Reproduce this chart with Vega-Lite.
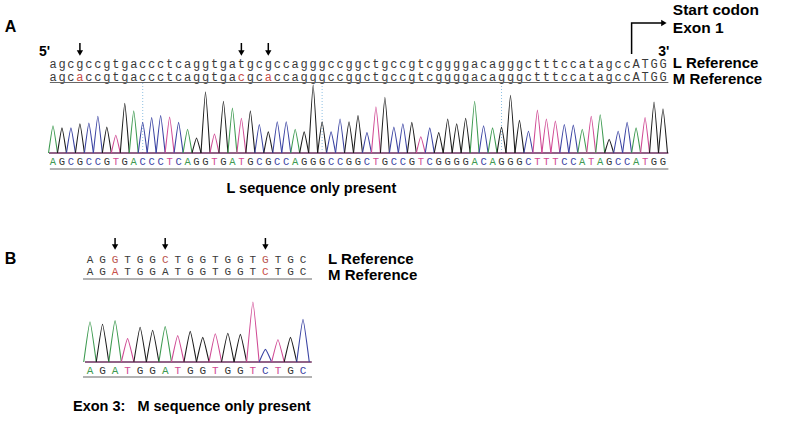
{
"$schema":"https://vega.github.io/schema/vega-lite/v6.json",
"width":790,"height":423,"padding":0,"autosize":{"type":"none"},"background":"white",
"config":{"view":{"stroke":null},"axis":{"disable":true},"legend":{"disable":true}},
"resolve":{"scale":{"x":"independent","y":"independent","color":"independent","shape":"independent","size":"independent"}},
"datasets":{
"seqA":[
{"pos":1,"L":"a","M":"a","R":"A"},{"pos":2,"L":"g","M":"g","R":"G"},{"pos":3,"L":"c","M":"c","R":"C"},{"pos":4,"L":"g","M":"a","R":"G","mhi":true},{"pos":5,"L":"c","M":"c","R":"C"},{"pos":6,"L":"c","M":"c","R":"C"},{"pos":7,"L":"g","M":"g","R":"G"},{"pos":8,"L":"t","M":"t","R":"T"},{"pos":9,"L":"g","M":"g","R":"G"},{"pos":10,"L":"a","M":"a","R":"A"},
{"pos":11,"L":"c","M":"c","R":"C"},{"pos":12,"L":"c","M":"c","R":"C"},{"pos":13,"L":"c","M":"c","R":"C"},{"pos":14,"L":"t","M":"t","R":"T"},{"pos":15,"L":"c","M":"c","R":"C"},{"pos":16,"L":"a","M":"a","R":"A"},{"pos":17,"L":"g","M":"g","R":"G"},{"pos":18,"L":"g","M":"g","R":"G"},{"pos":19,"L":"t","M":"t","R":"T"},{"pos":20,"L":"g","M":"g","R":"G"},
{"pos":21,"L":"a","M":"a","R":"A"},{"pos":22,"L":"t","M":"c","R":"T","mhi":true},{"pos":23,"L":"g","M":"g","R":"G"},{"pos":24,"L":"c","M":"c","R":"C"},{"pos":25,"L":"g","M":"a","R":"G","mhi":true},{"pos":26,"L":"c","M":"c","R":"C"},{"pos":27,"L":"c","M":"c","R":"C"},{"pos":28,"L":"a","M":"a","R":"A"},{"pos":29,"L":"g","M":"g","R":"G"},{"pos":30,"L":"g","M":"g","R":"G"},
{"pos":31,"L":"g","M":"g","R":"G"},{"pos":32,"L":"c","M":"c","R":"C"},{"pos":33,"L":"c","M":"c","R":"C"},{"pos":34,"L":"g","M":"g","R":"G"},{"pos":35,"L":"g","M":"g","R":"G"},{"pos":36,"L":"c","M":"c","R":"C"},{"pos":37,"L":"t","M":"t","R":"T"},{"pos":38,"L":"g","M":"g","R":"G"},{"pos":39,"L":"c","M":"c","R":"C"},{"pos":40,"L":"c","M":"c","R":"C"},
{"pos":41,"L":"g","M":"g","R":"G"},{"pos":42,"L":"t","M":"t","R":"T"},{"pos":43,"L":"c","M":"c","R":"C"},{"pos":44,"L":"g","M":"g","R":"G"},{"pos":45,"L":"g","M":"g","R":"G"},{"pos":46,"L":"g","M":"g","R":"G"},{"pos":47,"L":"g","M":"g","R":"G"},{"pos":48,"L":"a","M":"a","R":"A"},{"pos":49,"L":"c","M":"c","R":"C"},{"pos":50,"L":"a","M":"a","R":"A"},
{"pos":51,"L":"g","M":"g","R":"G"},{"pos":52,"L":"g","M":"g","R":"G"},{"pos":53,"L":"g","M":"g","R":"G"},{"pos":54,"L":"c","M":"c","R":"C"},{"pos":55,"L":"t","M":"t","R":"T"},{"pos":56,"L":"t","M":"t","R":"T"},{"pos":57,"L":"t","M":"t","R":"T"},{"pos":58,"L":"c","M":"c","R":"C"},{"pos":59,"L":"c","M":"c","R":"C"},{"pos":60,"L":"a","M":"a","R":"A"},
{"pos":61,"L":"t","M":"t","R":"T"},{"pos":62,"L":"a","M":"a","R":"A"},{"pos":63,"L":"g","M":"g","R":"G"},{"pos":64,"L":"c","M":"c","R":"C"},{"pos":65,"L":"c","M":"c","R":"C"},{"pos":66,"L":"A","M":"A","R":"A"},{"pos":67,"L":"T","M":"T","R":"T"},{"pos":68,"L":"G","M":"G","R":"G"},{"pos":69,"L":"G","M":"G","R":"G"}
],
"seqB":[
{"pos":1,"L":"A","M":"A","R":"A"},{"pos":2,"L":"G","M":"G","R":"G"},{"pos":3,"L":"G","M":"A","R":"A","lhi":true,"mhi":true},{"pos":4,"L":"T","M":"T","R":"T"},{"pos":5,"L":"G","M":"G","R":"G"},{"pos":6,"L":"G","M":"G","R":"G"},{"pos":7,"L":"C","M":"A","R":"A","lhi":true},{"pos":8,"L":"T","M":"T","R":"T"},{"pos":9,"L":"G","M":"G","R":"G"},
{"pos":10,"L":"G","M":"G","R":"G"},{"pos":11,"L":"T","M":"T","R":"T"},{"pos":12,"L":"G","M":"G","R":"G"},{"pos":13,"L":"G","M":"G","R":"G"},{"pos":14,"L":"T","M":"T","R":"T"},{"pos":15,"L":"G","M":"C","R":"C","lhi":true,"mhi":true},{"pos":16,"L":"T","M":"T","R":"T"},{"pos":17,"L":"G","M":"G","R":"G"},{"pos":18,"L":"C","M":"C","R":"C"}
],
"peaksA":[
{"p":1,"b":"A","t":0.5,"s":0},{"p":1,"b":"A","t":1,"s":40},{"p":1,"b":"A","t":1.5,"s":0},
{"p":2,"b":"G","t":1.5,"s":0},{"p":2,"b":"G","t":2,"s":37},{"p":2,"b":"G","t":2.5,"s":0},
{"p":3,"b":"C","t":2.5,"s":0},{"p":3,"b":"C","t":3,"s":37},{"p":3,"b":"C","t":3.5,"s":0},
{"p":4,"b":"G","t":3.5,"s":0},{"p":4,"b":"G","t":4,"s":43},{"p":4,"b":"G","t":4.5,"s":0},
{"p":5,"b":"C","t":4.5,"s":0},{"p":5,"b":"C","t":5,"s":44},{"p":5,"b":"C","t":5.5,"s":0},
{"p":6,"b":"C","t":5.5,"s":0},{"p":6,"b":"C","t":6,"s":54},{"p":6,"b":"C","t":6.5,"s":0},
{"p":7,"b":"G","t":6.5,"s":0},{"p":7,"b":"G","t":7,"s":38},{"p":7,"b":"G","t":7.5,"s":0},
{"p":8,"b":"T","t":7.5,"s":0},{"p":8,"b":"T","t":8,"s":26},{"p":8,"b":"T","t":8.5,"s":0},
{"p":9,"b":"G","t":8.5,"s":0},{"p":9,"b":"G","t":9,"s":73},{"p":9,"b":"G","t":9.5,"s":0},
{"p":10,"b":"A","t":9.5,"s":0},{"p":10,"b":"A","t":10,"s":62},{"p":10,"b":"A","t":10.5,"s":0},
{"p":11,"b":"C","t":10.5,"s":0},{"p":11,"b":"C","t":11,"s":45},{"p":11,"b":"C","t":11.5,"s":0},
{"p":12,"b":"C","t":11.5,"s":0},{"p":12,"b":"C","t":12,"s":52},{"p":12,"b":"C","t":12.5,"s":0},
{"p":13,"b":"C","t":12.5,"s":0},{"p":13,"b":"C","t":13,"s":55},{"p":13,"b":"C","t":13.5,"s":0},
{"p":14,"b":"T","t":13.5,"s":0},{"p":14,"b":"T","t":14,"s":53},{"p":14,"b":"T","t":14.5,"s":0},
{"p":15,"b":"C","t":14.5,"s":0},{"p":15,"b":"C","t":15,"s":45},{"p":15,"b":"C","t":15.5,"s":0},
{"p":16,"b":"A","t":15.5,"s":0},{"p":16,"b":"A","t":16,"s":35},{"p":16,"b":"A","t":16.5,"s":0},
{"p":17,"b":"G","t":16.5,"s":0},{"p":17,"b":"G","t":17,"s":22},{"p":17,"b":"G","t":17.5,"s":0},
{"p":18,"b":"G","t":17.5,"s":0},{"p":18,"b":"G","t":18,"s":90},{"p":18,"b":"G","t":18.5,"s":0},
{"p":19,"b":"T","t":18.5,"s":0},{"p":19,"b":"T","t":19,"s":28},{"p":19,"b":"T","t":19.5,"s":0},
{"p":20,"b":"G","t":19.5,"s":0},{"p":20,"b":"G","t":20,"s":76},{"p":20,"b":"G","t":20.5,"s":0},
{"p":21,"b":"A","t":20.5,"s":0},{"p":21,"b":"A","t":21,"s":66},{"p":21,"b":"A","t":21.5,"s":0},
{"p":22,"b":"T","t":21.5,"s":0},{"p":22,"b":"T","t":22,"s":51},{"p":22,"b":"T","t":22.5,"s":0},
{"p":23,"b":"G","t":22.5,"s":0},{"p":23,"b":"G","t":23,"s":62},{"p":23,"b":"G","t":23.5,"s":0},
{"p":24,"b":"C","t":23.5,"s":0},{"p":24,"b":"C","t":24,"s":42},{"p":24,"b":"C","t":24.5,"s":0},
{"p":25,"b":"G","t":24.5,"s":0},{"p":25,"b":"G","t":25,"s":31},{"p":25,"b":"G","t":25.5,"s":0},
{"p":26,"b":"C","t":25.5,"s":0},{"p":26,"b":"C","t":26,"s":46},{"p":26,"b":"C","t":26.5,"s":0},
{"p":27,"b":"C","t":26.5,"s":0},{"p":27,"b":"C","t":27,"s":46},{"p":27,"b":"C","t":27.5,"s":0},
{"p":28,"b":"A","t":27.5,"s":0},{"p":28,"b":"A","t":28,"s":35},{"p":28,"b":"A","t":28.5,"s":0},
{"p":29,"b":"G","t":28.5,"s":0},{"p":29,"b":"G","t":29,"s":31},{"p":29,"b":"G","t":29.5,"s":0},
{"p":30,"b":"G","t":29.5,"s":0},{"p":30,"b":"G","t":30,"s":100},{"p":30,"b":"G","t":30.5,"s":0},
{"p":31,"b":"G","t":30.5,"s":0},{"p":31,"b":"G","t":31,"s":46},{"p":31,"b":"G","t":31.5,"s":0},
{"p":32,"b":"C","t":31.5,"s":0},{"p":32,"b":"C","t":32,"s":31},{"p":32,"b":"C","t":32.5,"s":0},
{"p":33,"b":"C","t":32.5,"s":0},{"p":33,"b":"C","t":33,"s":50},{"p":33,"b":"C","t":33.5,"s":0},
{"p":34,"b":"G","t":33.5,"s":0},{"p":34,"b":"G","t":34,"s":46},{"p":34,"b":"G","t":34.5,"s":0},
{"p":35,"b":"G","t":34.5,"s":0},{"p":35,"b":"G","t":35,"s":55},{"p":35,"b":"G","t":35.5,"s":0},
{"p":36,"b":"C","t":35.5,"s":0},{"p":36,"b":"C","t":36,"s":30},{"p":36,"b":"C","t":36.5,"s":0},
{"p":37,"b":"T","t":36.5,"s":0},{"p":37,"b":"T","t":37,"s":68},{"p":37,"b":"T","t":37.5,"s":0},
{"p":38,"b":"G","t":37.5,"s":0},{"p":38,"b":"G","t":38,"s":82},{"p":38,"b":"G","t":38.5,"s":0},
{"p":39,"b":"C","t":38.5,"s":0},{"p":39,"b":"C","t":39,"s":38},{"p":39,"b":"C","t":39.5,"s":0},
{"p":40,"b":"C","t":39.5,"s":0},{"p":40,"b":"C","t":40,"s":43},{"p":40,"b":"C","t":40.5,"s":0},
{"p":41,"b":"G","t":40.5,"s":0},{"p":41,"b":"G","t":41,"s":45},{"p":41,"b":"G","t":41.5,"s":0},
{"p":42,"b":"T","t":41.5,"s":0},{"p":42,"b":"T","t":42,"s":24},{"p":42,"b":"T","t":42.5,"s":0},
{"p":43,"b":"C","t":42.5,"s":0},{"p":43,"b":"C","t":43,"s":37},{"p":43,"b":"C","t":43.5,"s":0},
{"p":44,"b":"G","t":43.5,"s":0},{"p":44,"b":"G","t":44,"s":30},{"p":44,"b":"G","t":44.5,"s":0},
{"p":45,"b":"G","t":44.5,"s":0},{"p":45,"b":"G","t":45,"s":50},{"p":45,"b":"G","t":45.5,"s":0},
{"p":46,"b":"G","t":45.5,"s":0},{"p":46,"b":"G","t":46,"s":43},{"p":46,"b":"G","t":46.5,"s":0},
{"p":47,"b":"G","t":46.5,"s":0},{"p":47,"b":"G","t":47,"s":51},{"p":47,"b":"G","t":47.5,"s":0},
{"p":48,"b":"A","t":47.5,"s":0},{"p":48,"b":"A","t":48,"s":76},{"p":48,"b":"A","t":48.5,"s":0},
{"p":49,"b":"C","t":48.5,"s":0},{"p":49,"b":"C","t":49,"s":40},{"p":49,"b":"C","t":49.5,"s":0},
{"p":50,"b":"A","t":49.5,"s":0},{"p":50,"b":"A","t":50,"s":37},{"p":50,"b":"A","t":50.5,"s":0},
{"p":51,"b":"G","t":50.5,"s":0},{"p":51,"b":"G","t":51,"s":38},{"p":51,"b":"G","t":51.5,"s":0},
{"p":52,"b":"G","t":51.5,"s":0},{"p":52,"b":"G","t":52,"s":85},{"p":52,"b":"G","t":52.5,"s":0},
{"p":53,"b":"G","t":52.5,"s":0},{"p":53,"b":"G","t":53,"s":48},{"p":53,"b":"G","t":53.5,"s":0},
{"p":54,"b":"C","t":53.5,"s":0},{"p":54,"b":"C","t":54,"s":32},{"p":54,"b":"C","t":54.5,"s":0},
{"p":55,"b":"T","t":54.5,"s":0},{"p":55,"b":"T","t":55,"s":63},{"p":55,"b":"T","t":55.5,"s":0},
{"p":56,"b":"T","t":55.5,"s":0},{"p":56,"b":"T","t":56,"s":50},{"p":56,"b":"T","t":56.5,"s":0},
{"p":57,"b":"T","t":56.5,"s":0},{"p":57,"b":"T","t":57,"s":47},{"p":57,"b":"T","t":57.5,"s":0},
{"p":58,"b":"C","t":57.5,"s":0},{"p":58,"b":"C","t":58,"s":42},{"p":58,"b":"C","t":58.5,"s":0},
{"p":59,"b":"C","t":58.5,"s":0},{"p":59,"b":"C","t":59,"s":41},{"p":59,"b":"C","t":59.5,"s":0},
{"p":60,"b":"A","t":59.5,"s":0},{"p":60,"b":"A","t":60,"s":35},{"p":60,"b":"A","t":60.5,"s":0},
{"p":61,"b":"T","t":60.5,"s":0},{"p":61,"b":"T","t":61,"s":54},{"p":61,"b":"T","t":61.5,"s":0},
{"p":62,"b":"A","t":61.5,"s":0},{"p":62,"b":"A","t":62,"s":56},{"p":62,"b":"A","t":62.5,"s":0},
{"p":63,"b":"G","t":62.5,"s":0},{"p":63,"b":"G","t":63,"s":20},{"p":63,"b":"G","t":63.5,"s":0},
{"p":64,"b":"C","t":63.5,"s":0},{"p":64,"b":"C","t":64,"s":32},{"p":64,"b":"C","t":64.5,"s":0},
{"p":65,"b":"C","t":64.5,"s":0},{"p":65,"b":"C","t":65,"s":45},{"p":65,"b":"C","t":65.5,"s":0},
{"p":66,"b":"A","t":65.5,"s":0},{"p":66,"b":"A","t":66,"s":37},{"p":66,"b":"A","t":66.5,"s":0},
{"p":67,"b":"T","t":66.5,"s":0},{"p":67,"b":"T","t":67,"s":52},{"p":67,"b":"T","t":67.5,"s":0},
{"p":68,"b":"G","t":67.5,"s":0},{"p":68,"b":"G","t":68,"s":75},{"p":68,"b":"G","t":68.5,"s":0},
{"p":69,"b":"G","t":68.5,"s":0},{"p":69,"b":"G","t":69,"s":65},{"p":69,"b":"G","t":69.5,"s":0}
],
"peaksB":[
{"p":1,"b":"A","t":0.5,"s":0},{"p":1,"b":"A","t":1,"s":67},{"p":1,"b":"A","t":1.5,"s":0},
{"p":2,"b":"G","t":1.5,"s":0},{"p":2,"b":"G","t":2,"s":63},{"p":2,"b":"G","t":2.5,"s":0},
{"p":3,"b":"A","t":2.5,"s":0},{"p":3,"b":"A","t":3,"s":69},{"p":3,"b":"A","t":3.5,"s":0},
{"p":4,"b":"T","t":3.5,"s":0},{"p":4,"b":"T","t":4,"s":39},{"p":4,"b":"T","t":4.5,"s":0},
{"p":5,"b":"G","t":4.5,"s":0},{"p":5,"b":"G","t":5,"s":58},{"p":5,"b":"G","t":5.5,"s":0},
{"p":6,"b":"G","t":5.5,"s":0},{"p":6,"b":"G","t":6,"s":53},{"p":6,"b":"G","t":6.5,"s":0},
{"p":7,"b":"A","t":6.5,"s":0},{"p":7,"b":"A","t":7,"s":59},{"p":7,"b":"A","t":7.5,"s":0},
{"p":8,"b":"T","t":7.5,"s":0},{"p":8,"b":"T","t":8,"s":44},{"p":8,"b":"T","t":8.5,"s":0},
{"p":9,"b":"G","t":8.5,"s":0},{"p":9,"b":"G","t":9,"s":51},{"p":9,"b":"G","t":9.5,"s":0},
{"p":10,"b":"G","t":9.5,"s":0},{"p":10,"b":"G","t":10,"s":41},{"p":10,"b":"G","t":10.5,"s":0},
{"p":11,"b":"T","t":10.5,"s":0},{"p":11,"b":"T","t":11,"s":47},{"p":11,"b":"T","t":11.5,"s":0},
{"p":12,"b":"G","t":11.5,"s":0},{"p":12,"b":"G","t":12,"s":48},{"p":12,"b":"G","t":12.5,"s":0},
{"p":13,"b":"G","t":12.5,"s":0},{"p":13,"b":"G","t":13,"s":46},{"p":13,"b":"G","t":13.5,"s":0},
{"p":14,"b":"T","t":13.5,"s":0},{"p":14,"b":"T","t":14,"s":100},{"p":14,"b":"T","t":14.5,"s":0},
{"p":15,"b":"C","t":14.5,"s":0},{"p":15,"b":"C","t":15,"s":21},{"p":15,"b":"C","t":15.5,"s":0},
{"p":16,"b":"T","t":15.5,"s":0},{"p":16,"b":"T","t":16,"s":37},{"p":16,"b":"T","t":16.5,"s":0},
{"p":17,"b":"G","t":16.5,"s":0},{"p":17,"b":"G","t":17,"s":41},{"p":17,"b":"G","t":17.5,"s":0},
{"p":18,"b":"C","t":17.5,"s":0},{"p":18,"b":"C","t":18,"s":71},{"p":18,"b":"C","t":18.5,"s":0}
]
},
"layer":[
{"data":{"values":[{"panel":"A"},{"panel":"B"}]},"mark":{"type":"text","font":"Liberation Sans","fontWeight":"bold","fontSize":16,"baseline":"middle","align":"center","color":"#000"},
 "encoding":{"x":{"field":"panel","type":"nominal","scale":{"type":"point","domain":["A","B"],"range":[10.5,10.5],"padding":0}},"y":{"field":"panel","type":"nominal","scale":{"type":"point","domain":["A","B"],"range":[26.5,259],"padding":0}},"text":{"field":"panel"}}},

{"data":{"values":[{"pos":11},{"pos":31},{"pos":51}]},"mark":{"type":"rule","color":"#8fc0e3","strokeWidth":1,"strokeDash":[1,2]},
 "encoding":{"x":{"field":"pos","type":"quantitative","scale":{"domain":[1,69],"range":[53,663],"nice":false,"zero":false}},"y":{"datum":0,"type":"quantitative","scale":{"domain":[0,100],"range":[153,85],"nice":false,"zero":false}},"y2":{"datum":103}}},
{"data":{"values":[{"trace":"A"}]},"mark":{"type":"rule","color":"#6d2f5f","strokeWidth":1.4},
 "encoding":{"x":{"datum":0.55,"type":"quantitative","scale":{"domain":[1,69],"range":[53,663],"nice":false,"zero":false}},"x2":{"datum":69.6},"y":{"datum":0,"type":"quantitative","scale":{"domain":[0,100],"range":[153,85],"nice":false,"zero":false}}}},
{"data":{"name":"peaksA"},"mark":{"type":"line","interpolate":"cardinal","tension":0.6,"strokeWidth":1.1},
 "encoding":{"x":{"field":"t","type":"quantitative","scale":{"domain":[1,69],"range":[53,663],"nice":false,"zero":false}},"y":{"field":"s","type":"quantitative","scale":{"domain":[0,100],"range":[153,85],"nice":false,"zero":false}},"detail":{"field":"p"},"color":{"field":"b","type":"nominal","scale":{"domain":["A","C","G","T"],"range":["#3d9a50","#3b44a3","#1c1c1c","#d04a94"]}}}},
{"data":{"name":"seqA"},"mark":{"type":"text","font":"Liberation Mono","fontSize":12,"baseline":"middle","align":"center"},
 "encoding":{"x":{"field":"pos","type":"quantitative","scale":{"domain":[1,69],"range":[53,663],"nice":false,"zero":false}},"y":{"datum":"L reference","type":"nominal","scale":{"type":"point","domain":["L reference","M reference"],"range":[64,77],"padding":0}},"text":{"field":"L"},"color":{"value":"#3a3a3a"}}},
{"data":{"name":"seqA"},"mark":{"type":"text","font":"Liberation Mono","fontSize":12,"baseline":"middle","align":"center"},
 "encoding":{"x":{"field":"pos","type":"quantitative","scale":{"domain":[1,69],"range":[53,663],"nice":false,"zero":false}},"y":{"datum":"M reference","type":"nominal","scale":{"type":"point","domain":["L reference","M reference"],"range":[64,77],"padding":0}},"text":{"field":"M"},"color":{"condition":{"test":"datum.mhi","value":"#c9504a"},"value":"#3a3a3a"}}},
{"data":{"name":"seqA"},"mark":{"type":"text","font":"Liberation Mono","fontSize":10.5,"baseline":"middle","align":"center"},
 "encoding":{"x":{"field":"pos","type":"quantitative","scale":{"domain":[1,69],"range":[53,663],"nice":false,"zero":false}},"y":{"datum":"read","type":"nominal","scale":{"type":"point","domain":["read"],"range":[162,162],"padding":0}},"text":{"field":"R"},"color":{"field":"R","type":"nominal","scale":{"domain":["A","C","G","T"],"range":["#3d9a50","#3b44a3","#333333","#d04a94"]}}}},
{"data":{"values":[{"line":"reference"},{"line":"read"}]},"mark":{"type":"rule","color":"#666666","strokeWidth":1.2},
 "encoding":{"x":{"datum":0.65,"type":"quantitative","scale":{"domain":[1,69],"range":[53,663],"nice":false,"zero":false}},"x2":{"datum":69.6},"y":{"field":"line","type":"nominal","scale":{"type":"point","domain":["reference","read"],"range":[82.5,169],"padding":0}}}},
{"data":{"values":[{"pos":4},{"pos":22},{"pos":25}]},"mark":{"type":"rule","color":"#000","strokeWidth":1.5},
 "encoding":{"x":{"field":"pos","type":"quantitative","scale":{"domain":[1,69],"range":[53,663],"nice":false,"zero":false}},"y":{"datum":"tail","type":"nominal","scale":{"type":"point","domain":["tail","tip"],"range":[43,52],"padding":0}},"y2":{"datum":"tip"}}},
{"data":{"values":[{"pos":4},{"pos":22},{"pos":25}]},"mark":{"type":"point","shape":"triangle-down","filled":true,"color":"#000","size":40,"opacity":1},
 "encoding":{"x":{"field":"pos","type":"quantitative","scale":{"domain":[1,69],"range":[53,663],"nice":false,"zero":false}},"y":{"datum":"tip","type":"nominal","scale":{"type":"point","domain":["tail","tip"],"range":[43,53],"padding":0}}}},
{"data":{"values":[{"label":"5'","pos":0.05},{"label":"3'","pos":69.1}]},"mark":{"type":"text","font":"Liberation Sans","fontWeight":"bold","fontSize":14,"baseline":"middle","align":"center","color":"#000"},
 "encoding":{"x":{"field":"pos","type":"quantitative","scale":{"domain":[1,69],"range":[53,663],"nice":false,"zero":false}},"y":{"datum":"ends","type":"nominal","scale":{"type":"point","domain":["ends"],"range":[52,52],"padding":0}},"text":{"field":"label"}}},
{"data":{"values":[{"step":1,"pos":65.5,"at":"start"},{"step":2,"pos":65.5,"at":"bend"},{"step":3,"pos":69.0,"at":"bend"}]},"mark":{"type":"line","color":"#000","strokeWidth":1.5},
 "encoding":{"x":{"field":"pos","type":"quantitative","scale":{"domain":[1,69],"range":[53,663],"nice":false,"zero":false}},"y":{"field":"at","type":"nominal","scale":{"type":"point","domain":["bend","start"],"range":[23,54],"padding":0}},"order":{"field":"step"}}},
{"data":{"values":[{"pos":69.1}]},"mark":{"type":"point","shape":"triangle-right","filled":true,"color":"#000","size":40,"opacity":1},
 "encoding":{"x":{"field":"pos","type":"quantitative","scale":{"domain":[1,69],"range":[53,663],"nice":false,"zero":false}},"y":{"datum":"bend","type":"nominal","scale":{"type":"point","domain":["bend","start"],"range":[23,54],"padding":0}}}},
{"data":{"values":[{"label":"Start codon"},{"label":"Exon 1"}]},"mark":{"type":"text","font":"Liberation Sans","fontWeight":"bold","fontSize":15.5,"baseline":"middle","align":"left","color":"#000"},
 "encoding":{"x":{"datum":70.1,"type":"quantitative","scale":{"domain":[1,69],"range":[53,663],"nice":false,"zero":false}},"y":{"field":"label","type":"nominal","scale":{"type":"point","domain":["Start codon","Exon 1"],"range":[10,28],"padding":0}},"text":{"field":"label"}}},
{"data":{"values":[{"label":"L Reference"},{"label":"M Reference"}]},"mark":{"type":"text","font":"Liberation Sans","fontWeight":"bold","fontSize":15,"baseline":"middle","align":"left","color":"#000"},
 "encoding":{"x":{"datum":70.1,"type":"quantitative","scale":{"domain":[1,69],"range":[53,663],"nice":false,"zero":false}},"y":{"field":"label","type":"nominal","scale":{"type":"point","domain":["L Reference","M Reference"],"range":[63,79],"padding":0}},"text":{"field":"label"}}},
{"data":{"values":[{"caption":"L sequence only present"}]},"mark":{"type":"text","font":"Liberation Sans","fontWeight":"bold","fontSize":14.5,"baseline":"middle","align":"center","color":"#000"},
 "encoding":{"x":{"datum":29.8,"type":"quantitative","scale":{"domain":[1,69],"range":[53,663],"nice":false,"zero":false}},"y":{"field":"caption","type":"nominal","scale":{"type":"point","domain":["L sequence only present"],"range":[189,189],"padding":0}},"text":{"field":"caption"}}},

{"data":{"values":[{"trace":"B"}]},"mark":{"type":"rule","color":"#6d2f5f","strokeWidth":1.4},
 "encoding":{"x":{"datum":0.6,"type":"quantitative","scale":{"domain":[1,18],"range":[90,303],"nice":false,"zero":false}},"x2":{"datum":18.7},"y":{"datum":0,"type":"quantitative","scale":{"domain":[0,100],"range":[362,302],"nice":false,"zero":false}}}},
{"data":{"name":"peaksB"},"mark":{"type":"line","interpolate":"cardinal","tension":0.6,"strokeWidth":1.1},
 "encoding":{"x":{"field":"t","type":"quantitative","scale":{"domain":[1,18],"range":[90,303],"nice":false,"zero":false}},"y":{"field":"s","type":"quantitative","scale":{"domain":[0,100],"range":[362,302],"nice":false,"zero":false}},"detail":{"field":"p"},"color":{"field":"b","type":"nominal","scale":{"domain":["A","C","G","T"],"range":["#3d9a50","#3b44a3","#1c1c1c","#d04a94"]}}}},
{"data":{"name":"seqB"},"mark":{"type":"text","font":"Liberation Mono","fontSize":11,"baseline":"middle","align":"center"},
 "encoding":{"x":{"field":"pos","type":"quantitative","scale":{"domain":[1,18],"range":[90,303],"nice":false,"zero":false}},"y":{"datum":"L reference","type":"nominal","scale":{"type":"point","domain":["L reference","M reference"],"range":[260,272],"padding":0}},"text":{"field":"L"},"color":{"condition":{"test":"datum.lhi","value":"#b9534d"},"value":"#3a3a3a"}}},
{"data":{"name":"seqB"},"mark":{"type":"text","font":"Liberation Mono","fontSize":11,"baseline":"middle","align":"center"},
 "encoding":{"x":{"field":"pos","type":"quantitative","scale":{"domain":[1,18],"range":[90,303],"nice":false,"zero":false}},"y":{"datum":"M reference","type":"nominal","scale":{"type":"point","domain":["L reference","M reference"],"range":[260,272],"padding":0}},"text":{"field":"M"},"color":{"condition":{"test":"datum.mhi","value":"#c9504a"},"value":"#3a3a3a"}}},
{"data":{"name":"seqB"},"mark":{"type":"text","font":"Liberation Mono","fontSize":11,"baseline":"middle","align":"center"},
 "encoding":{"x":{"field":"pos","type":"quantitative","scale":{"domain":[1,18],"range":[90,303],"nice":false,"zero":false}},"y":{"datum":"read","type":"nominal","scale":{"type":"point","domain":["read"],"range":[371,371],"padding":0}},"text":{"field":"R"},"color":{"field":"R","type":"nominal","scale":{"domain":["A","C","G","T"],"range":["#3d9a50","#3b44a3","#333333","#d04a94"]}}}},
{"data":{"values":[{"line":"reference"},{"line":"read"}]},"mark":{"type":"rule","color":"#666666","strokeWidth":1.2},
 "encoding":{"x":{"datum":0.44,"type":"quantitative","scale":{"domain":[1,18],"range":[90,303],"nice":false,"zero":false}},"x2":{"datum":18.72},"y":{"field":"line","type":"nominal","scale":{"type":"point","domain":["reference","read"],"range":[279,377],"padding":0}}}},
{"data":{"values":[{"pos":3},{"pos":7},{"pos":15}]},"mark":{"type":"rule","color":"#000","strokeWidth":1.5},
 "encoding":{"x":{"field":"pos","type":"quantitative","scale":{"domain":[1,18],"range":[90,303],"nice":false,"zero":false}},"y":{"datum":"tail","type":"nominal","scale":{"type":"point","domain":["tail","tip"],"range":[238,246],"padding":0}},"y2":{"datum":"tip"}}},
{"data":{"values":[{"pos":3},{"pos":7},{"pos":15}]},"mark":{"type":"point","shape":"triangle-down","filled":true,"color":"#000","size":40,"opacity":1},
 "encoding":{"x":{"field":"pos","type":"quantitative","scale":{"domain":[1,18],"range":[90,303],"nice":false,"zero":false}},"y":{"datum":"tip","type":"nominal","scale":{"type":"point","domain":["tail","tip"],"range":[238,247],"padding":0}}}},
{"data":{"values":[{"label":"L Reference"},{"label":"M Reference"}]},"mark":{"type":"text","font":"Liberation Sans","fontWeight":"bold","fontSize":15,"baseline":"middle","align":"left","color":"#000"},
 "encoding":{"x":{"datum":20.0,"type":"quantitative","scale":{"domain":[1,18],"range":[90,303],"nice":false,"zero":false}},"y":{"field":"label","type":"nominal","scale":{"type":"point","domain":["L Reference","M Reference"],"range":[259,275],"padding":0}},"text":{"field":"label"}}},
{"data":{"values":[{"caption":"Exon 3:\u00a0\u00a0 M sequence only present"}]},"mark":{"type":"text","font":"Liberation Sans","fontWeight":"bold","fontSize":14.5,"baseline":"middle","align":"left","color":"#000"},
 "encoding":{"x":{"datum":-0.36,"type":"quantitative","scale":{"domain":[1,18],"range":[90,303],"nice":false,"zero":false}},"y":{"field":"caption","type":"nominal","scale":{"type":"point","domain":["Exon 3:\u00a0\u00a0 M sequence only present"],"range":[407,407],"padding":0}},"text":{"field":"caption"}}}
]
}
